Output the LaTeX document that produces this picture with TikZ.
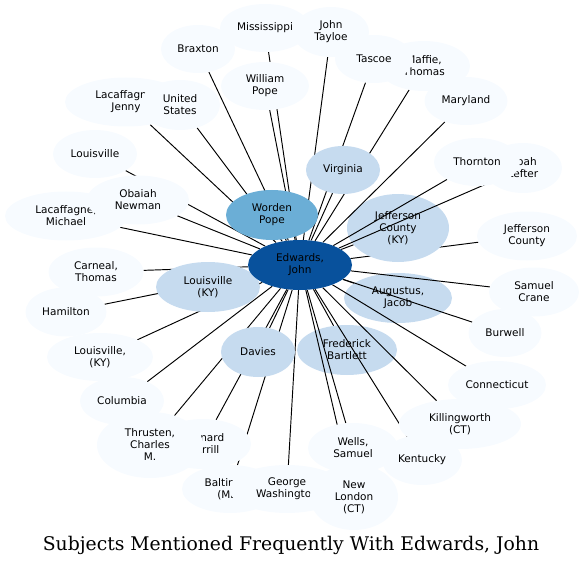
\documentclass[tikz,border=0pt]{standalone}
\usepackage{fontspec}
\newfontfamily\subjfont{DejaVu Sans}
\newfontfamily\titlefont{DejaVu Serif}
\usetikzlibrary{shapes.geometric}
\definecolor{palebl}{HTML}{F7FBFF}
\definecolor{lightbl}{HTML}{C6DBEF}
\definecolor{midbl}{HTML}{6BAED6}
\definecolor{darkbl}{HTML}{08519C}
\pgfdeclarelayer{bottom}
\pgfdeclarelayer{back}
\pgfsetlayers{bottom,back,main}

\begin{document}
\begin{tikzpicture}[x=1pt,y=-1pt,
  subj/.style={ellipse,fill=palebl,inner sep=0pt,align=center,
    font=\subjfont\fontsize{10.5}{12}\selectfont},
  wh/.style 2 args={minimum width=#1pt,minimum height=#2pt},
  link/.style={line width=0.95pt}]
\useasboundingbox (0,0) rectangle (584,567);

% subjects drawn under the links
\begin{pgfonlayer}{back}
  \node[subj,fill=lightbl,wh={102}{68}] (jeffky) at (398,228) {Jefferson\\County\\(KY)};
  \node[subj,fill=lightbl,wh={108}{50}] (augustus) at (398,298) {Augustus,\\Jacob};
  \node[subj,fill=lightbl,wh={100}{50}] (bartlett) at (347,350) {Frederick\\Bartlett};
\end{pgfonlayer}

% outer ring
\node[subj,wh={90}{48}] (mississippi) at (265,28) {Mississippi};
\node[subj,wh={74}{48}] (braxton) at (198,49) {Braxton};
\node[subj,wh={76}{50}] (tayloe) at (331,32) {John\\Tayloe};
\node[subj,wh={88}{48}] (wpope) at (265,86) {William\\Pope};
\node[subj,wh={92}{50}] (maffie) at (424,66) {Maffie,\\Thomas};
\node[subj,wh={78}{48}] (tascoe) at (374,59) {Tascoe};
\node[subj,wh={83}{48}] (maryland) at (466,101) {Maryland};
\node[subj,wh={78}{50}] (noah) at (523,168) {Noah\\Lefter};
\node[subj,wh={86}{48}] (thornton) at (477,162) {Thornton};
\node[subj,wh={100}{49}] (jeffco) at (527,236) {Jefferson\\County};
\node[subj,wh={90}{49}] (crane) at (534,292) {Samuel\\Crane};
\node[subj,wh={73}{48}] (burwell) at (505,333) {Burwell};
\node[subj,wh={98}{48}] (connecticut) at (497,385) {Connecticut};
\node[subj,wh={122}{50}] (killingworth) at (460,424) {Killingworth\\(CT)};
\node[subj,wh={80}{50}] (kentucky) at (422,460) {Kentucky};
\node[subj,wh={90}{50}] (wells) at (353,448) {Wells,\\Samuel};
\node[subj,wh={96}{48}] (baltimore) at (230,489) {Baltimore\\(MD)};
\node[subj,wh={116}{48}] (washington) at (287,489) {George\\Washington};
\node[subj,wh={88}{66}] (newlondon) at (354,497) {New\\London\\(CT)};
\node[subj,wh={96}{50}] (merrill) at (203,444) {Leonard\\Merrill};
\node[subj,wh={106}{66}] (thrusten) at (150,445) {Thrusten,\\Charles\\M.};
\node[subj,wh={84}{48}] (columbia) at (122,401) {Columbia};
\node[subj,wh={106}{48}] (louky2) at (100,357) {Louisville,\\(KY)};
\node[subj,wh={81}{49}] (hamilton) at (66,312) {Hamilton};
\node[subj,wh={95}{49}] (carneal) at (96,272) {Carneal,\\Thomas};
\node[subj,wh={122}{49}] (michael) at (66,216) {Lacaffagne,\\Michael};
\node[subj,wh={84}{48}] (louisville) at (95,154) {Louisville};
\node[subj,wh={102}{49}] (obaiah) at (138,200) {Obaiah\\Newman};
\node[subj,wh={122}{49}] (jenny) at (126,102) {Lacaffagne,\\Jenny};
\node[subj,wh={80}{50}] (ustates) at (180,105) {United\\States};

% inner ring
\node[subj,fill=lightbl,wh={74}{48}] (virginia) at (343,170) {Virginia};
\node[subj,fill=lightbl,wh={74}{50}] (davies) at (258,352) {Davies};
\node[subj,fill=lightbl,wh={104}{50}] (louky) at (208,287) {Louisville\\(KY)};
\node[subj,fill=midbl,wh={92}{50}] (wordenpope) at (272,215) {Worden\\Pope};
\node[subj,fill=darkbl,wh={104}{50}] (edwards) at (300,265) {Edwards,\\John};

% links
\begin{pgfonlayer}{bottom}
  \draw[link] (edwards) -- (jeffco);
\end{pgfonlayer}
\begin{pgfonlayer}{back}
  \foreach \s in {mississippi,braxton,tayloe,wpope,maffie,tascoe,maryland,
      noah,thornton,jeffky,crane,burwell,augustus,connecticut,killingworth,
      bartlett,kentucky,wells,newlondon,washington,baltimore,davies,merrill,
      thrusten,columbia,louky2,hamilton,carneal,louky,michael,obaiah,
      louisville,jenny,ustates,virginia,wordenpope}
    \draw[link] (edwards) -- (\s);
\end{pgfonlayer}

\node[font=\titlefont\fontsize{18.8}{22}\selectfont] (title) at (291,545)
  {Subjects Mentioned Frequently With Edwards, John};
\end{tikzpicture}
\end{document}
